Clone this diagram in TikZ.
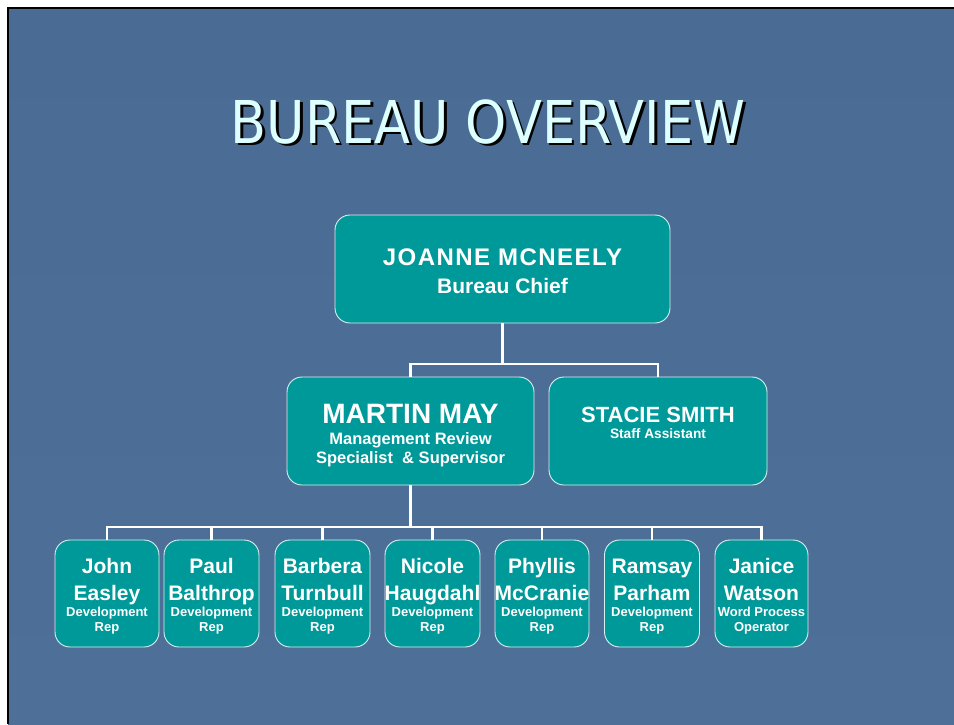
\documentclass[tikz,border=0pt]{standalone}
\usepackage{fontspec}
\usepackage{graphicx}
\setmainfont{Liberation Sans}
\newfontfamily\titlefont{DejaVu Sans}
\definecolor{slidetop}{HTML}{4A6B93}
\definecolor{slidemid}{HTML}{5C7DA5}
\definecolor{slidebot}{HTML}{4E7098}
\definecolor{boxteal}{HTML}{009999}
\definecolor{titlecyan}{HTML}{DDFFFF}
\tikzset{
  orgbox/.style={draw=white!85!boxteal, line width=0.9pt, fill=boxteal, rounded corners=15pt, inner sep=0pt},
  conn/.style={draw=white, line width=2.5pt},
  txt/.style={text=white, inner sep=0pt, anchor=base, font=\bfseries},
  rep/.style={orgbox, minimum width=95pt, minimum height=107pt},
}
\newcommand{\fs}[1]{\fontsize{#1}{#1}\selectfont}
\begin{document}
\begin{tikzpicture}[x=1pt,y=-1pt]
\useasboundingbox (0,0) rectangle (954,724);
\fill[white] (0,0) rectangle (954,724);
\shade[top color=slidetop, middle color=slidemid, bottom color=slidebot] (8,8) rectangle (954,724);
\draw[black, line width=2.5pt] (8,724) -- (8,8) -- (954,8);

% title
\node[inner sep=0pt, anchor=base, text=black] (titleshadow) at (490.5,145.5) {\titlefont\fs{59}\scalebox{0.89}[1]{BUREAU OVERVIEW}};
\node[inner sep=0pt, anchor=base, text=titlecyan] (title) at (488,143) {\titlefont\fs{59}\scalebox{0.89}[1]{BUREAU OVERVIEW}};

% boxes
\node[orgbox, minimum width=335pt, minimum height=108pt] (chief) at (502.5,269) {};
\node[orgbox, minimum width=247pt, minimum height=108pt] (martin) at (410.5,431) {};
\node[orgbox, minimum width=218pt, minimum height=108pt] (stacie) at (658,431) {};

\node[rep, minimum width=104pt] (r1) at (107,593.5) {};
\node[rep] (r2) at (211.5,593.5) {};
\node[rep] (r3) at (322.5,593.5) {};
\node[rep] (r4) at (432.5,593.5) {};
\node[rep, minimum width=94pt] (r5) at (542,593.5) {};
\node[rep] (r6) at (652,593.5) {};
\node[rep, minimum width=93pt] (r7) at (761.5,593.5) {};

% connectors
\coordinate (bar1) at (502.5,364);
\coordinate (bar2) at (410.5,527);
\draw[conn] (chief.south) -- (bar1);
\draw[conn] (martin.north) -- (martin.north |- bar1) -- (stacie.north |- bar1) -- (stacie.north);
\draw[conn] (martin.south) -- (bar2);
\draw[conn] (r1.north) -- (r1.north |- bar2) -- (r7.north |- bar2) -- (r7.north);
\foreach \i in {2,...,6} { \draw[conn] (r\i.north) -- (r\i.north |- bar2); }

% texts
\node[txt] (chiefname) at (502.5,265) {\fs{24}\addfontfeature{LetterSpace=6}JOANNE MCNEELY};
\node[txt] (chieftitle) at (502.5,293) {\fs{21}Bureau Chief};

\node[txt] (martinname) at (410.5,423) {\fs{28}MARTIN MAY};
\node[txt] (martint1) at (410.5,444) {\fs{16.5}Management Review};
\node[txt] (martint2) at (410.5,463) {\fs{16.5}Specialist \ \& Supervisor};

\node[txt] (staciename) at (658,422) {\fs{22}STACIE SMITH};
\node[txt] (stacietitle) at (658,438) {\fs{13.7}Staff Assistant};

\foreach \i/\a/\b/\c/\d in {
  1/John/Easley/Development/Rep,
  2/Paul/Balthrop/Development/Rep,
  3/Barbera/Turnbull/Development/Rep,
  4/Nicole/Haugdahl/Development/Rep,
  5/Phyllis/McCranie/Development/Rep,
  6/Ramsay/Parham/Development/Rep,
  7/Janice/Watson/Word Process/Operator} {
  \node[txt] (n\i a) at ([yshift=20.5pt]r\i.center) {\fs{21}\a};
  \node[txt] (n\i b) at ([yshift=-6.5pt]r\i.center) {\fs{21}\b};
  \node[txt] (n\i c) at ([yshift=-22.5pt]r\i.center) {\fs{13}\c};
  \node[txt] (n\i d) at ([yshift=-38pt]r\i.center) {\fs{13}\d};
}
\end{tikzpicture}
\end{document}
